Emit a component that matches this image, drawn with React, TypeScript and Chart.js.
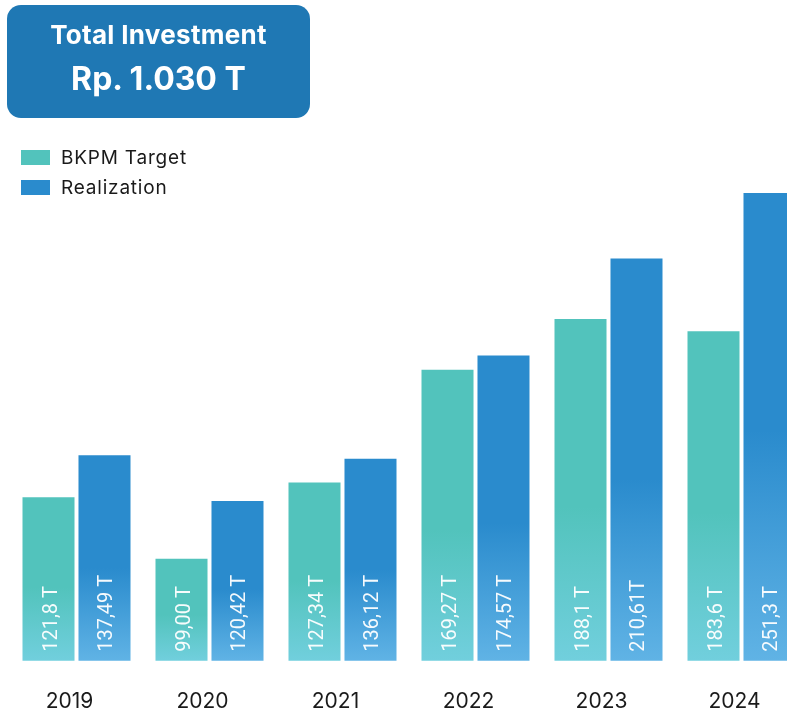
import React, { useEffect, useRef } from "react";
import { Chart, registerables } from "chart.js";

Chart.register(...registerables);

const years = ["2019", "2020", "2021", "2022", "2023", "2024"];
const targetValues = [121.8, 99.0, 127.34, 169.27, 188.1, 183.6];
const realizationValues = [137.49, 120.42, 136.12, 174.57, 210.61, 251.3];
const targetLabels = ["121,8 T", "99,00 T", "127,34 T", "169,27 T", "188,1 T", "183,6 T"];
const realizationLabels = ["137,49 T", "120,42 T", "136,12 T", "174,57 T", "210,61T", "251,3 T"];
const seriesNames = ["BKPM Target", "Realization"];
const totalTitle = "Total Investment";
const totalValue = "Rp. 1.030 T";

const targetColor = "#52C3BC";
const targetLight = "#71CFDD";
const realColor = "#2A8BCD";
const realLight = "#60B3E5";

function barGradient(top: string, bottom: string) {
  return (ctx: any) => {
    const chart = ctx.chart;
    const y = chart.scales && chart.scales.y;
    if (ctx.type !== "data" || !y) return top;
    const yTop = y.getPixelForValue(ctx.raw);
    const yBot = y.getPixelForValue(y.min);
    if (!isFinite(yTop) || !isFinite(yBot) || yBot - yTop < 1) return top;
    const g = chart.ctx.createLinearGradient(0, yTop, 0, yBot);
    g.addColorStop(0, top);
    g.addColorStop(0.55, top);
    g.addColorStop(1, bottom);
    return g;
  };
}

const valueLabelPlugin = {
  id: "valueLabels",
  afterDraw(chart: any) {
    const ctx = chart.ctx;
    const labelSets = [targetLabels, realizationLabels];
    const base = chart.chartArea.bottom;
    for (let di = 0; di < chart.data.datasets.length; di++) {
      const meta = chart.getDatasetMeta(di);
      const items = meta.data || [];
      for (let i = 0; i < items.length; i++) {
        const bar: any = items[i];
        const text = labelSets[di][i];
        const x = typeof bar.x === "number" ? bar.x : 0;
        ctx.save();
        ctx.translate(x, base - 9);
        ctx.rotate(-Math.PI / 2);
        ctx.font = "20px Roboto, sans-serif";
        ctx.fillStyle = "rgba(255,255,255,0.95)";
        ctx.textAlign = "left";
        ctx.textBaseline = "alphabetic";
        ctx.fillText(text, 0, 8);
        ctx.restore();
      }
    }
  },
};

export default function App() {
  const ref = useRef<HTMLCanvasElement>(null);
  useEffect(() => {
    const chart = new Chart(ref.current as HTMLCanvasElement, {
      type: "bar",
      data: {
        labels: years,
        datasets: [
          {
            label: seriesNames[0],
            data: targetValues,
            backgroundColor: barGradient(targetColor, targetLight) as any,
            borderWidth: 0,
          },
          {
            label: seriesNames[1],
            data: realizationValues,
            backgroundColor: barGradient(realColor, realLight) as any,
            borderWidth: 0,
          },
        ],
      },
      options: {
        responsive: false,
        animation: false,
        devicePixelRatio: 1,
        layout: { padding: { left: 10, right: 10, top: 193, bottom: 0 } },
        datasets: {
          bar: { categoryPercentage: 0.842, barPercentage: 0.929, clip: 0 } as any,
        },
        plugins: {
          legend: { display: false },
          tooltip: { enabled: false },
        },
        scales: {
          x: {
            grid: { display: false, drawTicks: false },
            border: { display: false },
            ticks: {
              color: "#1a1a1a",
              font: { family: "Inter", size: 21 },
              padding: 28,
              labelOffset: -7,
            },
          },
          y: { display: false, min: 61, max: 235 },
        },
      },
      plugins: [valueLabelPlugin],
    });
    return () => chart.destroy();
  }, []);

  const legendRow = (color: string, text: string, top: number) => (
    <div style={{ position: "absolute", left: 21, top, height: 15, display: "flex", alignItems: "center" }}>
      <div style={{ width: 29, height: 15, background: color }} />
      <div
        style={{
          marginLeft: 11,
          fontFamily: "Inter",
          fontSize: 19,
          letterSpacing: "0.8px",
          lineHeight: "15px",
          color: "#1a1a1a",
          whiteSpace: "nowrap",
        }}
      >
        {text}
      </div>
    </div>
  );

  return (
    <div
      style={{
        position: "fixed",
        left: 0,
        top: 0,
        width: 787,
        height: 712,
        overflow: "hidden",
        background: "#fff",
      }}
    >
      <canvas
        ref={ref}
        width={818}
        height={742}
        style={{ position: "absolute", left: 0, top: 0, width: 818, height: 742 }}
      />
      <div
        style={{
          position: "absolute",
          left: 7,
          top: 5,
          width: 303,
          height: 113,
          borderRadius: 14,
          background: "#1F78B4",
          color: "#fff",
          fontFamily: "Inter",
          fontWeight: 700,
          textAlign: "center",
        }}
      >
        <div
          style={{
            position: "absolute",
            left: 0,
            right: 0,
            top: 15,
            height: 30,
            lineHeight: "30px",
            fontSize: 26,
            letterSpacing: "0.3px",
          }}
        >
          {totalTitle}
        </div>
        <div
          style={{
            position: "absolute",
            left: 0,
            right: 0,
            top: 56,
            height: 36,
            lineHeight: "36px",
            fontSize: 32,
          }}
        >
          {totalValue}
        </div>
      </div>
      {legendRow(targetColor, seriesNames[0], 150)}
      {legendRow(realColor, seriesNames[1], 180)}
    </div>
  );
}
